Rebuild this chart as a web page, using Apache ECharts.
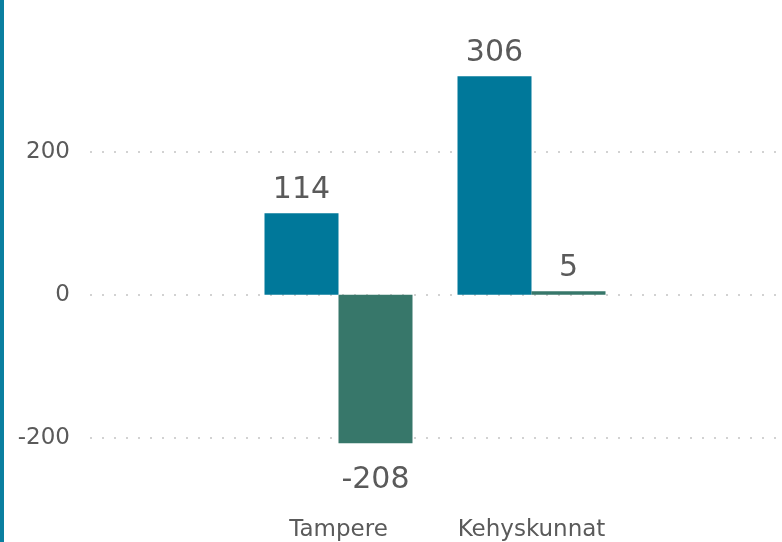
<!DOCTYPE html>
<html>
<head>
<meta charset="utf-8">
<script src="https://cdn.jsdelivr.net/npm/echarts@6/dist/echarts.min.js"></script>
<style>
  html, body { margin: 0; padding: 0; background: #fff; }
  #chart { width: 782px; height: 542px; }
</style>
</head>
<body>
<div id="chart"></div>
<script>
// data
const categories = ['Tampere', 'Kehyskunnat'];
const firstValues = [114, 306];
const secondValues = [-208, 5];
const tickLabels = [-200, 0, 200];

const blue = '#00789a';
const green = '#37776a';
const textColor = '#5a5a5a';
const font = 'DejaVu Sans';

let chart = echarts.init(document.getElementById('chart'));

// labels sit a bit further away below negative bars
function withLabels(values) {
  return values.map(v => ({
    value: v,
    label: { distance: v < 0 ? 22 : 8 }
  }));
}

let barLabel = {
  show: true,
  position: 'outside',
  fontSize: 30,
  fontFamily: font,
  color: textColor
};

let option = {
  animation: false,
  graphic: [
    // blue stripe on the left edge
    { type: 'rect', left: 0, top: 0, shape: { width: 4, height: 542 }, style: { fill: '#0a7fa0' } }
  ],
  grid: [
    // grid 0: y labels and dotted grid lines only
    { left: 90, right: 0, top: 152, height: 286 },
    // grid 1: the bars
    { left: 242, width: 386, top: 9, height: 500 }
  ],
  xAxis: [
    { gridIndex: 0, type: 'category', data: [], show: false },
    {
      gridIndex: 1,
      type: 'category',
      data: categories,
      axisLine: { show: false },
      axisTick: { show: false },
      axisLabel: { fontSize: 23, fontFamily: font, color: textColor, margin: 10 }
    }
  ],
  yAxis: [
    {
      gridIndex: 0,
      type: 'value',
      min: tickLabels[0],
      max: tickLabels[tickLabels.length - 1],
      interval: 200,
      axisLine: { show: false },
      axisTick: { show: false },
      axisLabel: { fontSize: 23, fontFamily: font, color: textColor, margin: 20, padding: [5, 0, 0, 0] },
      splitLine: { lineStyle: { type: [2, 10], width: 2, color: '#d2d2d2' } }
    },
    { gridIndex: 1, type: 'value', min: -300, max: 400, show: false, splitLine: { show: false } }
  ],
  series: [
    {
      type: 'bar',
      xAxisIndex: 1,
      yAxisIndex: 1,
      data: withLabels(firstValues),
      barWidth: 74,
      barGap: '0%',
      itemStyle: { color: blue },
      label: barLabel
    },
    {
      type: 'bar',
      xAxisIndex: 1,
      yAxisIndex: 1,
      data: withLabels(secondValues),
      barWidth: 74,
      barGap: '0%',
      itemStyle: { color: green },
      label: barLabel
    }
  ]
};

chart.setOption(option);
</script>
</body>
</html>
